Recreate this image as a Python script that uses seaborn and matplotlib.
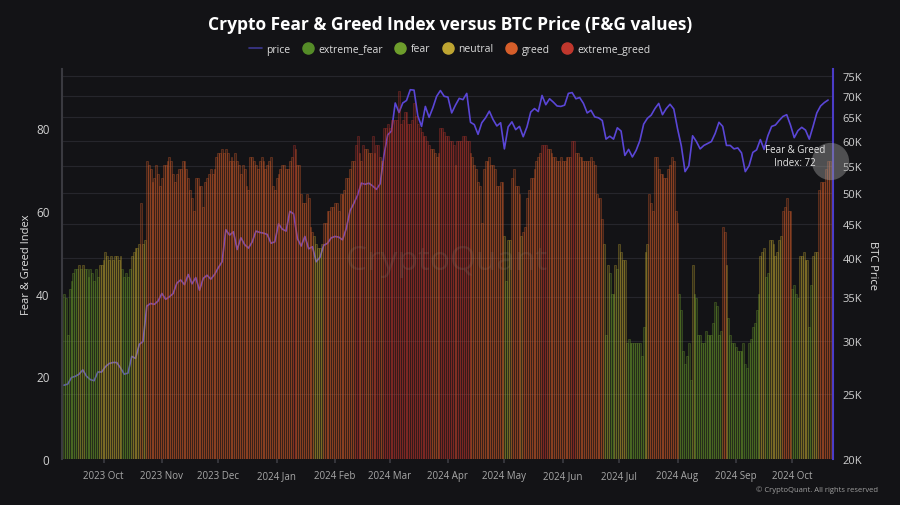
import numpy as np
import pandas as pd
import matplotlib
matplotlib.use('Agg')
import matplotlib.pyplot as plt
import matplotlib.dates as mdates
import seaborn as sns
from matplotlib.lines import Line2D

# ===============================
# Data
# ===============================
start_date = '2023-09-10'

# daily Fear & Greed values, 2023-09-10 .. 2024-10-21
fg_values = [
    40, 39, 30, 41, 43, 45, 46, 46, 47, 46,
    47, 46, 46, 44, 46, 45, 43, 46, 44, 47,
    47, 48, 50, 49, 48, 49, 48, 49, 49, 48,
    49, 46, 44, 45, 44, 46, 49, 50, 51, 51,
    52, 62, 52, 53, 72, 71, 70, 67, 68, 71,
    69, 66, 68, 71, 71, 72, 73, 72, 69, 67,
    69, 70, 70, 72, 72, 70, 68, 65, 63, 60,
    68, 68, 66, 66, 61, 67, 68, 69, 70, 69,
    70, 73, 74, 74, 75, 74, 75, 74, 72, 73,
    72, 74, 72, 71, 69, 71, 70, 66, 65, 73,
    73, 72, 71, 70, 72, 73, 72, 70, 71, 72,
    73, 66, 65, 68, 69, 70, 71, 71, 70, 70,
    72, 73, 76, 75, 71, 71, 64, 62, 62, 64,
    63, 56, 55, 54, 52, 51, 51, 52, 57, 57,
    60, 60, 61, 61, 62, 62, 60, 64, 64, 65,
    68, 68, 70, 72, 72, 76, 78, 74, 72, 76,
    75, 75, 74, 74, 78, 74, 76, 76, 73, 72,
    80, 80, 81, 80, 82, 82, 82, 82, 89, 81,
    82, 84, 84, 81, 81, 82, 86, 83, 81, 80,
    79, 78, 78, 77, 76, 75, 75, 74, 73, 74,
    80, 80, 79, 78, 78, 77, 77, 76, 71, 77,
    77, 77, 78, 78, 77, 77, 74, 73, 71, 70,
    67, 66, 57, 70, 72, 72, 73, 71, 71, 70,
    66, 66, 67, 67, 54, 43, 53, 53, 68, 70,
    66, 66, 64, 54, 55, 56, 63, 65, 68, 68,
    70, 72, 73, 74, 76, 76, 76, 75, 75, 74,
    73, 73, 72, 72, 73, 72, 72, 73, 73, 73,
    77, 77, 74, 74, 73, 73, 72, 72, 72, 72,
    73, 72, 71, 64, 63, 63, 58, 52, 30, 47,
    45, 40, 40, 47, 46, 52, 50, 48, 48, 28,
    29, 28, 28, 28, 28, 28, 28, 25, 32, 50,
    52, 64, 62, 60, 73, 73, 70, 69, 69, 68,
    68, 70, 71, 73, 72, 60, 57, 40, 36, 26,
    23, 25, 28, 19, 47, 40, 39, 30, 30, 28,
    28, 31, 30, 30, 30, 33, 38, 37, 30, 31,
    56, 55, 47, 34, 30, 28, 28, 27, 26, 26,
    26, 28, 23, 22, 28, 29, 32, 33, 36, 40,
    49, 50, 51, 44, 45, 53, 53, 52, 49, 50,
    53, 54, 60, 61, 63, 60, 60, 41, 42, 40,
    39, 49, 49, 50, 48, 48, 32, 42, 49, 50,
    50, 65, 67, 67, 67, 70, 72, 72,
]

# BTC price in thousands USD, every second day from the same start
price_k = [
    25.8, 25.9, 26.5, 26.6, 26.8, 27.2, 26.6, 26.3, 26.2, 27.0, 27.0,
    27.5, 27.8, 27.9, 27.9, 27.4, 26.8, 26.9, 28.5, 28.3, 29.7, 30.0, 33.9, 34.2, 34.1, 34.5,
    35.4, 34.7, 35.0, 35.4, 36.7, 37.1, 36.5, 37.8, 36.6, 37.4, 35.8, 37.3, 37.7, 37.2, 37.8,
    38.7, 39.5, 44.1, 43.3, 43.8, 41.2, 42.9, 41.9, 41.4, 42.3, 43.9, 43.7, 43.6, 43.4, 42.1, 42.3,
    45.0, 44.2, 43.9, 47.0, 46.6, 42.8, 41.7, 43.1, 41.3, 41.6, 39.5, 40.1, 41.8, 42.1, 42.9,
    43.1, 43.0, 42.6, 44.3, 47.1, 48.3, 49.7, 51.8, 51.6, 51.8, 51.3, 50.7, 51.7, 57.0, 61.2,
    62.0, 68.3, 66.1, 68.3, 68.9, 71.5, 71.4, 65.3, 63.0, 67.5, 65.0, 67.2, 69.9, 71.3, 69.9,
    69.7, 66.0, 67.8, 69.4, 69.1, 70.6, 63.9, 63.4, 61.3, 63.8, 64.9, 66.4, 64.5, 63.1, 63.8,
    58.3, 62.9, 64.0, 62.3, 63.0, 60.8, 62.9, 66.2, 67.0, 66.3, 70.1, 67.9, 69.3, 68.5, 67.6, 67.5,
    67.8, 70.6, 70.8, 69.3, 69.6, 68.2, 66.0, 66.6, 65.1, 64.9, 64.3, 60.3, 60.9, 60.3, 62.7,
    62.0, 57.0, 58.2, 56.7, 58.0, 60.0, 63.5, 64.8, 65.5, 67.0, 68.2, 65.6, 67.0, 68.0, 66.9,
    62.5, 58.9, 53.9, 55.0, 61.0, 59.8, 58.3, 59.0, 59.4, 59.8, 61.5, 63.9, 63.0, 59.0, 59.0,
    58.3, 58.5, 57.5, 53.9, 55.0, 57.6, 58.1, 60.2, 58.2, 61.0, 63.0, 63.3, 64.3, 65.2, 65.6,
    63.3, 60.6, 62.1, 62.8, 62.2, 60.3, 63.0, 66.0, 67.6, 68.4, 69.0,
]

categories = ['extreme_fear', 'fear', 'neutral', 'greed', 'extreme_greed']
cat_colors = ['#558c28', '#6e9e2c', '#bea532', '#d65e2a', '#c0372d']
price_ticks = [20, 25, 30, 35, 40, 45, 50, 55, 60, 65, 70, 75]
fg_ticks = [0, 20, 40, 60, 80]


def classify(v):
    if v <= 24:
        return 'extreme_fear'
    if v <= 46:
        return 'fear'
    if v <= 54:
        return 'neutral'
    if v <= 75:
        return 'greed'
    return 'extreme_greed'


fg_dates = pd.date_range(start_date, periods=len(fg_values), freq='D')
price_dates = pd.date_range(start_date, periods=len(price_k), freq='2D')

fg_df = pd.DataFrame({
    'date': mdates.date2num(fg_dates),
    'value': fg_values,
    'category': [classify(v) for v in fg_values],
})
price_df = pd.DataFrame({
    'date': mdates.date2num(price_dates),
    'price': np.array(price_k) * 1000,
})

# ===============================
# Style
# ===============================
bg = '#131316'
sns.set_theme(style='dark')
plt.rcParams['font.family'] = ['Open Sans', 'DejaVu Sans']

fig = plt.figure(figsize=(9, 5.06), dpi=100, facecolor=bg)
ax2 = fig.add_axes([62 / 900, 1 - 460 / 506, (833 - 62) / 900, 390 / 506])
ax = ax2.twinx()
ax2.set_facecolor(bg)
ax.patch.set_visible(False)

# ===============================
# Price line (drawn behind bars)
# ===============================
sns.lineplot(data=price_df, x='date', y='price', color='#5a46d6', linewidth=1.2, ax=ax2)
ax2.set_yscale('log')
ax2.set_ylim(20000, 76800)
ax2.yaxis.tick_right()
ax2.yaxis.set_label_position('right')
ax2.yaxis.set_major_locator(matplotlib.ticker.FixedLocator([t * 1000 for t in price_ticks]))
ax2.yaxis.set_major_formatter(matplotlib.ticker.FixedFormatter([f'{t}K' for t in price_ticks]))
ax2.yaxis.set_minor_locator(matplotlib.ticker.NullLocator())
ax2.grid(axis='y', color='#26262c', linewidth=0.8)
ax2.grid(axis='x', visible=False)
ax2.tick_params(axis='y', colors='#d0d0d0', labelsize=8, length=0, pad=7)
ax2.set_ylabel('')
ax2.set_xlabel('')

# ===============================
# Fear & Greed bars
# ===============================
sns.barplot(data=fg_df, x='date', y='value', hue='category', hue_order=categories,
            palette=dict(zip(categories, cat_colors)), native_scale=True, dodge=False,
            width=1.0, saturation=1, legend=False, ax=ax)
# dim fill with a brighter outline, like the original's striped look
for p in ax.patches:
    fc = p.get_facecolor()
    p.set_facecolor((fc[0], fc[1], fc[2], 0.20))
    p.set_edgecolor((fc[0], fc[1], fc[2], 0.48))
    p.set_linewidth(0.45)

ax.yaxis.tick_left()
ax.set_ylim(0, 94.3)
ax.set_yticks(fg_ticks)
ax.tick_params(axis='y', colors='#d0d0d0', labelsize=8.5, length=0, pad=9)
ax.set_ylabel('')
ax.set_xlabel('')
ax.grid(False)

# x axis (labels live on the lower axes)
x0 = fg_df['date'].iloc[0] - 1.06
x1 = fg_df['date'].iloc[0] + 408.6
ax2.set_xlim(x0, x1)
ax2.xaxis.set_major_locator(mdates.MonthLocator())
ax2.xaxis.set_major_formatter(mdates.DateFormatter('%Y %b'))
ax2.tick_params(axis='x', colors='#3a3a40', labelcolor='#a8a8a8', labelsize=7,
                length=3, pad=5, bottom=True)

for s in ['top', 'right', 'bottom']:
    ax.spines[s].set_visible(False)
ax.spines['left'].set_color('#3a3a40')
ax.spines['left'].set_linewidth(1.5)
for s in ['top', 'left', 'bottom']:
    ax2.spines[s].set_visible(False)
ax2.spines['right'].set_color('#4b3cc8')
ax2.spines['right'].set_linewidth(1.5)

# last value marker + label
last_x = fg_df['date'].iloc[-1]
last_v = fg_values[-1]
ax.scatter([last_x], [last_v], s=720, color='#9a9a9a', alpha=0.45, linewidths=0,
           clip_on=False, zorder=5)
ax.annotate(f'Fear & Greed\nIndex: {last_v}', xy=(last_x, last_v), xytext=(-35, 5),
            textcoords='offset pixels', ha='center', va='center', fontsize=7,
            color='#e6e6e6', linespacing=1.3, zorder=6)

# ===============================
# Titles, legend, labels
# ===============================
fig.text(0.5, 1 - 25 / 506, 'Crypto Fear & Greed Index versus BTC Price (F&G values)',
         ha='center', va='center', fontsize=12.5, fontweight='bold', color='white')
fig.text(27 / 900, 1 - 265 / 506, 'Fear & Greed Index', rotation=90, ha='center',
         va='center', fontsize=8, color='#e0e0e0')
fig.text(873 / 900, 1 - 266 / 506, 'BTC Price', rotation=270, ha='center',
         va='center', fontsize=8, color='#e0e0e0')
fig.text(447 / 900, 1 - 262 / 506, 'CryptoQuant', ha='center', va='center',
         fontsize=24, color='#8a7a70', alpha=0.2)
fig.text(878 / 900, 1 - 490 / 506, '© CryptoQuant. All rights reserved', ha='right',
         va='center', fontsize=5.5, color='#a0a0a0')

handles = [Line2D([0], [0], color='#3c3890', lw=1.2)]
for c in cat_colors:
    handles.append(Line2D([0], [0], lw=0, marker='o', markersize=8,
                          markerfacecolor=c, markeredgecolor=c))
leg = fig.legend(handles, ['price'] + categories, loc='center', ncol=6,
                 bbox_to_anchor=(0.5, 1 - 50 / 506), frameon=False, fontsize=7.5,
                 handlelength=1.2, handletextpad=0.4, columnspacing=1.1)
for t in leg.get_texts():
    t.set_color('#dcdcdc')

fig.savefig('out.png', dpi=100, facecolor=bg)
